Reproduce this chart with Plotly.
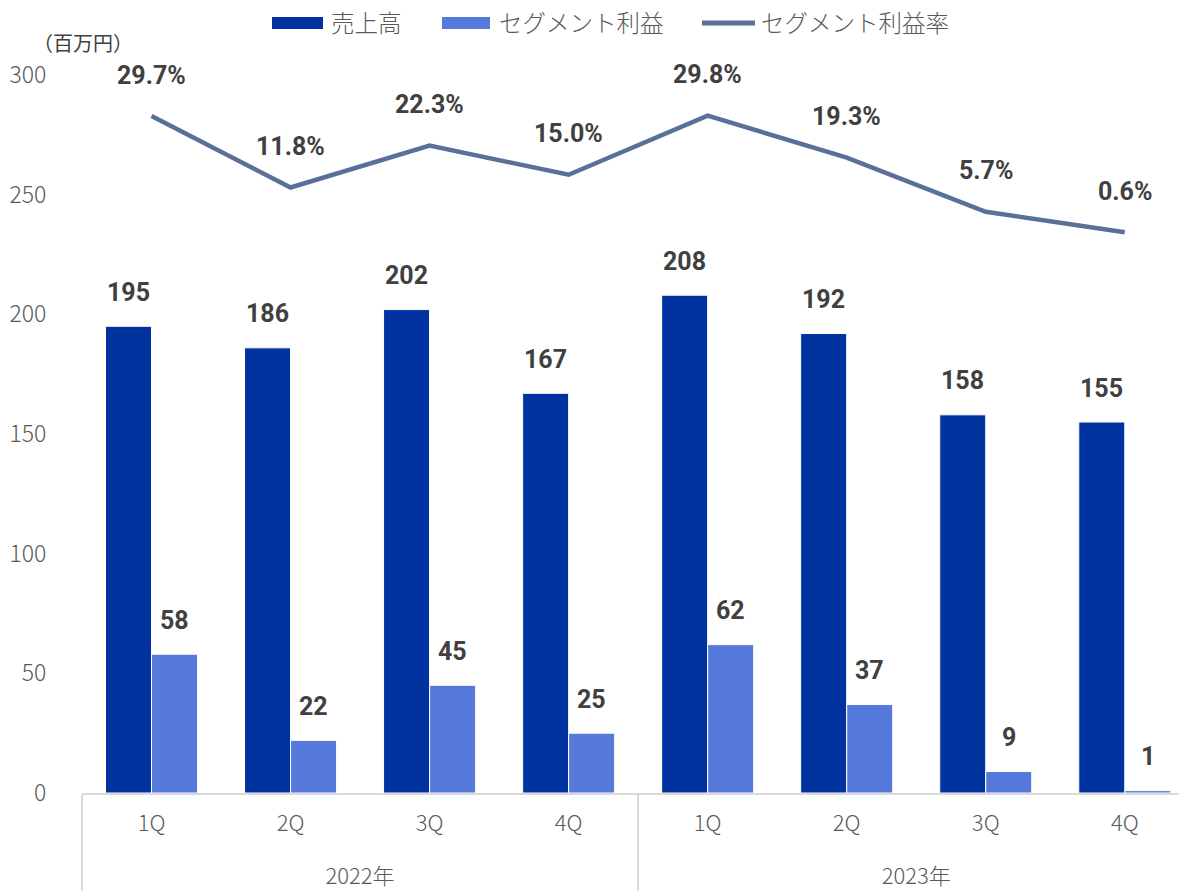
import plotly.graph_objects as go

# Quarterly segment results
years = ["2022年"] * 4 + ["2023年"] * 4
quarters = ["1Q", "2Q", "3Q", "4Q", "1Q", "2Q", "3Q", "4Q"]
sales = [195, 186, 202, 167, 208, 192, 158, 155]          # 売上高（百万円）
segment_profit = [58, 22, 45, 25, 62, 37, 9, 1]           # セグメント利益（百万円）
profit_rate = [29.7, 11.8, 22.3, 15.0, 29.8, 19.3, 5.7, 0.6]  # セグメント利益率（%）
series_names = ["売上高", "セグメント利益", "セグメント利益率"]

DARK = "#0033A0"
LIGHT = "#557ADB"
LINE = "#5A7099"
LABEL = "#404040"
AXIS_TXT = "#595959"
JP_FONT = "Noto Sans CJK JP"
NUM_FONT = "Roboto"

BARGAP = 0.338
bar_w = (1 - BARGAP) / 2   # width of one bar in category units

# Plot-area geometry (px) used to place the hand-drawn legend
FIG_W, FIG_H = 1179, 895
M_L, M_R, M_T, M_B = 82, 0, 75, 102
PW, PH = FIG_W - M_L - M_R, FIG_H - M_T - M_B


def px_x(px):
    return (px - M_L) / PW


def px_y(py):
    return (FIG_H - M_B - py) / PH


# year labels sit one line lower than the quarter labels
x = [["<br>" + y for y in years], quarters]

fig = go.Figure()

fig.add_trace(go.Bar(
    x=x, y=sales, name=series_names[0], showlegend=False,
    marker=dict(color=DARK, line=dict(color="#FFFFFF", width=1)),
))
fig.add_trace(go.Bar(
    x=x, y=segment_profit, name=series_names[1], showlegend=False,
    marker=dict(color=LIGHT, line=dict(color="#FFFFFF", width=1)),
))
fig.add_trace(go.Scatter(
    x=x, y=profit_rate, name=series_names[2], yaxis="y2", showlegend=False,
    mode="lines", line=dict(color=LINE, width=4.5),
    cliponaxis=False,
))

label_font = dict(family=NUM_FONT, size=25, color=LABEL, weight="bold")
annotations = []
for i, v in enumerate(sales):
    annotations.append(dict(
        x=i - bar_w / 2, y=v, xref="x", yref="y", text=str(v),
        showarrow=False, yanchor="middle", yshift=34, font=label_font,
    ))
for i, v in enumerate(segment_profit):
    annotations.append(dict(
        x=i + bar_w / 2, y=v, xref="x", yref="y", text=str(v),
        showarrow=False, yanchor="middle", yshift=34, font=label_font,
    ))
for i, v in enumerate(profit_rate):
    annotations.append(dict(
        x=i, y=v, xref="x", yref="y2", text=f"{v:.1f}%",
        showarrow=False, yanchor="middle", yshift=41, font=label_font,
    ))
annotations.append(dict(
    text="（百万円）", xref="paper", yref="paper", x=px_x(83), y=px_y(42),
    xanchor="center", yanchor="middle", showarrow=False,
    font=dict(family=JP_FONT, size=20, color="#404040"),
))

# Legend drawn with shapes + text
legend_font = dict(family=JP_FONT, size=23.5, color=AXIS_TXT, weight=300)
shapes = [
    dict(type="rect", xref="paper", yref="paper",
         x0=px_x(272), x1=px_x(323), y0=px_y(29), y1=px_y(17),
         fillcolor=DARK, line=dict(width=0)),
    dict(type="rect", xref="paper", yref="paper",
         x0=px_x(442), x1=px_x(490), y0=px_y(29), y1=px_y(17),
         fillcolor=LIGHT, line=dict(width=0)),
    dict(type="line", xref="paper", yref="paper",
         x0=px_x(702), x1=px_x(755), y0=px_y(23), y1=px_y(23),
         line=dict(color=LINE, width=5)),
]
for name, left in zip(series_names, [329, 497, 759]):
    annotations.append(dict(
        text=name, xref="paper", yref="paper", x=px_x(left), y=px_y(22),
        xanchor="left", yanchor="middle", showarrow=False, font=legend_font,
    ))

fig.update_layout(
    width=FIG_W, height=FIG_H,
    margin=dict(l=M_L, r=M_R, t=M_T, b=M_B, autoexpand=False),
    paper_bgcolor="#FFFFFF", plot_bgcolor="#FFFFFF",
    barmode="group", bargap=BARGAP, bargroupgap=0,
    font=dict(family=JP_FONT, color=AXIS_TXT, size=22),
    showlegend=False,
    xaxis=dict(
        type="multicategory", range=[-0.5, 7.39], automargin=False,
        showline=True, linecolor="#D9D9D9", linewidth=1.5,
        showdividers=True, dividercolor="#D9D9D9", dividerwidth=1.5,
        tickfont=dict(family=JP_FONT, size=22, color=AXIS_TXT, weight=300),
        ticks="", showgrid=False, ticklabelstandoff=10,
    ),
    yaxis=dict(
        range=[0, 300], dtick=50, showgrid=False, zeroline=False,
        showline=False, ticks="outside", ticklen=30, tickcolor="rgba(0,0,0,0)",
        tickfont=dict(family=JP_FONT, size=23, color=AXIS_TXT, weight=300),
        automargin=False,
    ),
    yaxis2=dict(
        range=[-140, 40], overlaying="y", side="right", visible=False,
    ),
    shapes=shapes,
    annotations=annotations,
)

fig.write_html("out.html")
